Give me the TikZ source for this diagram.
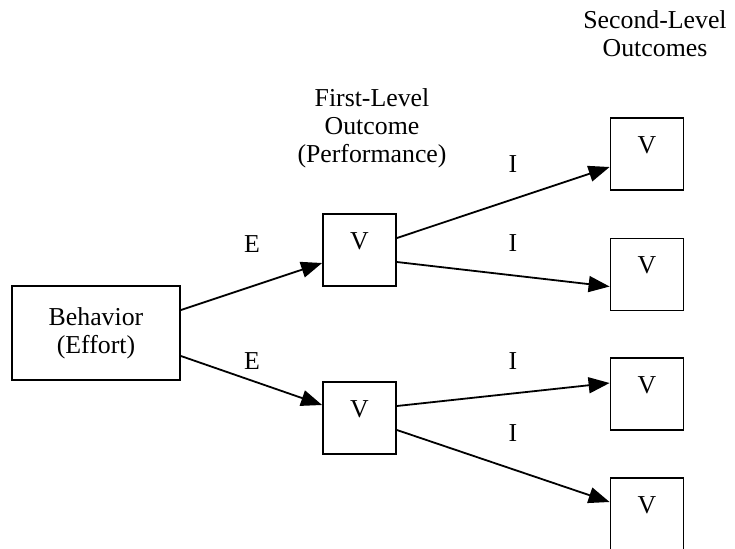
\documentclass[tikz,border=0pt]{standalone}
\usepackage{fontspec}
\setmainfont{Liberation Serif}
\usetikzlibrary{arrows.meta}

\begin{document}
\begin{tikzpicture}[x=0.5pt,y=-0.5pt,font=\fontsize{12.9}{13.9}\selectfont,
  line width=0.9pt,
  vbox/.style={draw,minimum width=36.5pt,minimum height=36pt,inner sep=0pt,text depth=9pt},
  link/.style={-{Triangle[length=10.5pt,width=8pt]}}]
 \useasboundingbox (0,0) rectangle (735,548);
 \node[draw,align=center,minimum width=84pt,minimum height=47pt] (beh) at (96,333) {Behavior\\(Effort)};
 \node[vbox] (v1) at (359.5,250) {V};\node[vbox] (v2) at (359.5,418) {V};
 \node[vbox] (w1) at (647,154) {V};\node[vbox] (w2) at (647,274.5) {V};
 \node[vbox] (w3) at (647,394) {V};\node[vbox] (w4) at (647,514) {V};
 \node[align=center] (first) at (372,128) {First-Level\\Outcome\\(Performance)};
 \node[align=center] (second) at (655,34) {Second-Level\\Outcomes};
 \draw[link] ([yshift=11.5pt]beh.east) -- ([yshift=-6.5pt]v1.west);
 \draw[link] ([yshift=-11.5pt]beh.east) -- ([yshift=6.5pt]v2.west);
 \draw[link] ([yshift=6pt]v1.east) -- ([yshift=-6.5pt]w1.west);
 \draw[link] ([yshift=-6pt]v1.east) -- ([yshift=-6pt]w2.west);
 \draw[link] ([yshift=6pt]v2.east) -- ([yshift=5.5pt]w3.west);
 \draw[link] ([yshift=-6pt]v2.east) -- ([yshift=6pt]w4.west);
 \node (e1) at (252,244) {E};\node (e2) at (252,361) {E};
 \foreach \n/\y in {i1/164,i2/243,i3/361,i4/433}{\node (\n) at (513,\y) {I};}
\end{tikzpicture}
\end{document}
